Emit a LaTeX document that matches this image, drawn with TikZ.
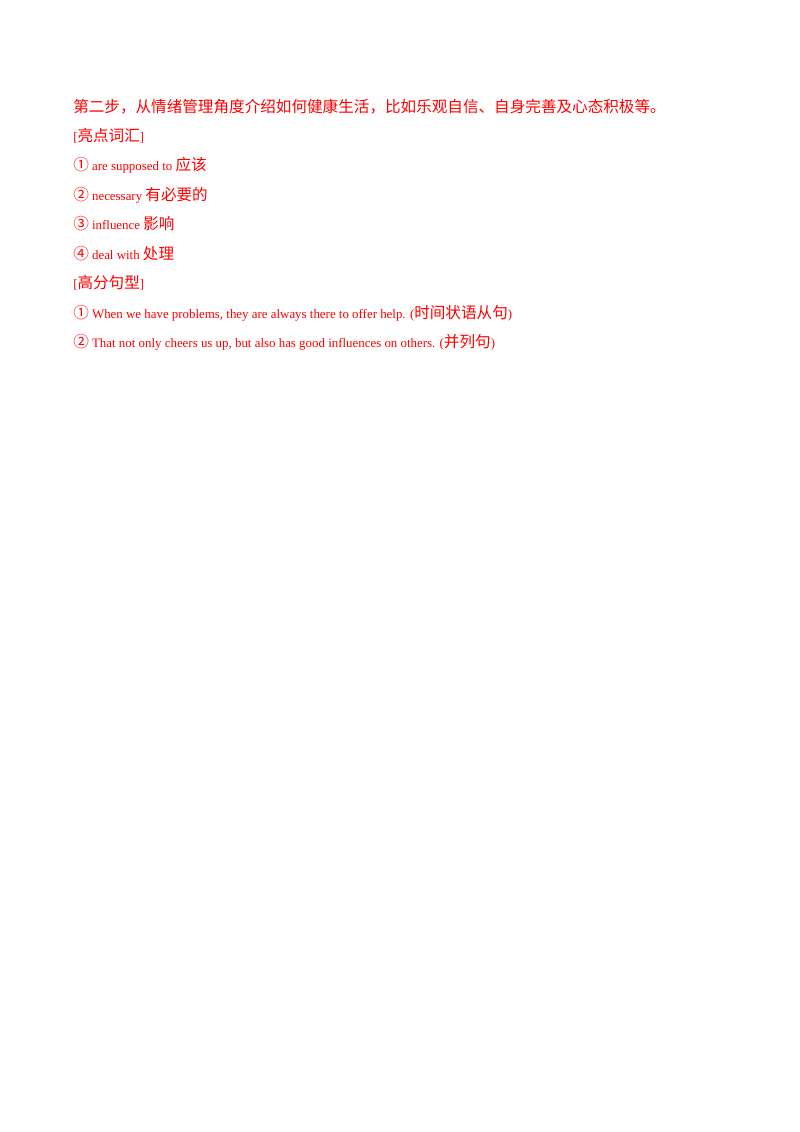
\documentclass[tikz,border=0pt]{standalone}
\usepackage{fontspec}
\setmainfont{Liberation Serif}
\newfontfamily\cjk{Noto Sans CJK SC}
\newcommand{\zh}[1]{{\cjk\fontsize{11.6}{13}\selectfont #1}}
\definecolor{ansred}{RGB}{255,0,0}

\begin{document}
\begin{tikzpicture}[x=0.744pt,y=-0.744pt]
\tikzstyle{every node}+=[inner sep=0pt, anchor=base west, text=ansred, font=\fontsize{9.6}{12}\selectfont]
\useasboundingbox (0,0) rectangle (800,1132);
\node (step) at (73,112) {\zh{第二步，从情绪管理角度介绍如何健康生活，比如乐观自信、自身完善及心态积极等。}};
\node (vocab) at (73,141) {[\zh{亮点词汇}]};
\node (v1) at (73,170) {\zh{①} are supposed to \zh{应该}};
\node (v2) at (73,200) {\zh{②} necessary \zh{有必要的}};
\node (v3) at (73,229) {\zh{③} influence \zh{影响}};
\node (v4) at (73,259) {\zh{④} deal with \zh{处理}};
\node (sent) at (73,288) {[\zh{高分句型}]};
\node (s1) at (73,318) {\zh{①} When we have problems, they are always there to offer help. (\zh{时间状语从句})};
\node (s2) at (73,347) {\zh{②} That not only cheers us up, but also has good influences on others. (\zh{并列句})};
\end{tikzpicture}
\end{document}
